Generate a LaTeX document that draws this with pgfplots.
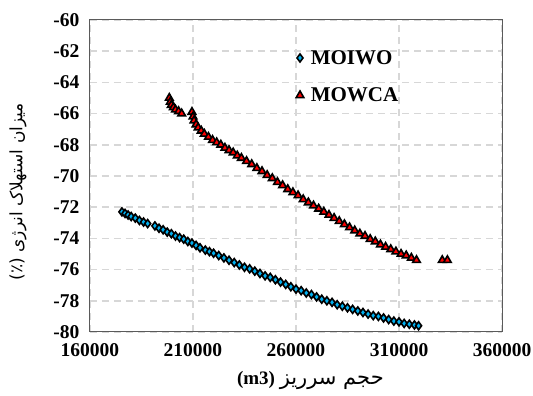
\documentclass[border=0pt]{standalone}
\usepackage{fontspec}
\setmainfont{Liberation Serif}
\newfontfamily\arabicfont[Script=Arabic]{DejaVu Sans}
\TeXXeTstate=1
\usepackage{pgfplots}
\pgfplotsset{compat=1.18}
\definecolor{moiwo}{RGB}{0,176,240}
\definecolor{gridc}{RGB}{215,215,215}
\definecolor{framec}{RGB}{90,90,90}
\begin{document}
\begin{tikzpicture}
\path[use as bounding box] (-90pt,-64pt) rectangle (443pt,332pt);
\begin{axis}[
  at={(0,0)}, anchor=south west,
  scale only axis, width=412pt, height=312pt,
  xmin=160000, xmax=360000, ymin=-80, ymax=-60,
  xtick={160000,210000,260000,310000,360000},
  xticklabels={160000,210000,260000,310000,360000},
  ytick={-80,-78,-76,-74,-72,-70,-68,-66,-64,-62,-60},
  yticklabels={-80,-78,-76,-74,-72,-70,-68,-66,-64,-62,-60},
  scaled ticks=false,
  major tick length=0pt,
  grid=major,
  major grid style={gridc, line width=1.5pt, dash pattern=on 7pt off 5pt},
  axis line style={framec, line width=1pt},
  tick label style={font=\bfseries\fontsize{19.5}{21}\selectfont, black},
  yticklabel style={xshift=-7pt},
  xticklabel style={yshift=-8pt},
  xlabel={\bfseries\fontsize{19}{20}\selectfont (m3) {\arabicfont\mdseries\fontsize{21}{22}\selectfont\beginR حجم سرریز\endR}},
  ylabel={\fontsize{17}{20}\selectfont\arabicfont (٪) \beginR میزان استهلاک انرژی\endR},
  xlabel style={at={(axis description cs:0.535,-0.155)}, anchor=center},
  ylabel style={at={(axis description cs:-0.175,0.45)}, anchor=center, rotate=0},
  legend style={draw=none, fill=none, at={(axis description cs:0.5,0.91)}, anchor=north west,
    font=\bfseries\fontsize{21}{23}\selectfont, row sep=18pt, inner sep=0pt},
  legend cell align=left,
]
\addplot[only marks, mark=diamond*, mark size=4pt, mark options={fill=moiwo, draw=black, line width=1.6pt}]
coordinates {
(175500,-72.3) (177000,-72.4) (178500,-72.5) (180000,-72.6) (182000,-72.7) (184000,-72.85) (186000,-72.95) (188000,-73.05)
(191500,-73.2) (193500,-73.35) (195500,-73.45) (197500,-73.6) (199500,-73.7) (201500,-73.85) (203500,-73.95) (205500,-74.05)
(207500,-74.2) (209500,-74.3) (211500,-74.45) (213400,-74.6)
(216000,-74.75) (218000,-74.85) (220000,-74.95) (222500,-75.1) (225000,-75.25) (227500,-75.4) (230000,-75.55) (232500,-75.7)
(235000,-75.85) (237500,-75.95) (240000,-76.1)
(242500,-76.25) (245000,-76.4) (247500,-76.5) (250000,-76.65) (252500,-76.8) (255000,-76.95) (257500,-77.1) (260000,-77.25)
(262500,-77.35) (265000,-77.5) (267500,-77.6)
(270000,-77.75) (272500,-77.9) (275000,-78.0) (277500,-78.1) (280000,-78.25) (282500,-78.35) (285000,-78.45) (287500,-78.55)
(290000,-78.65) (292500,-78.75)
(295000,-78.85) (297500,-78.95) (300000,-79.0) (302500,-79.1) (305000,-79.2) (307500,-79.3) (310000,-79.35) (312500,-79.45)
(315000,-79.5) (317500,-79.55) (319500,-79.6)
};
\addlegendentry{\hspace{5pt}MOIWO}
\addplot[only marks, mark=triangle*, mark size=4.4pt, mark options={fill=red, draw=black, line width=1.6pt}]
coordinates {
(198500,-65.0) (199000,-65.25) (199500,-65.45) (200500,-65.6) (201500,-65.75) (203000,-65.85) (204500,-66.0)
(209500,-65.9) (210000,-66.2) (210500,-66.45) (211500,-66.7) (212500,-66.9) (214000,-67.1) (215500,-67.3) (217500,-67.5)
(219500,-67.7) (221500,-67.85) (223500,-68.0) (225500,-68.2) (227500,-68.35) (229500,-68.5) (231500,-68.7) (233500,-68.85)
(236000,-69.05) (238500,-69.25) (241000,-69.5) (243500,-69.7) (246000,-69.95) (248500,-70.15) (251000,-70.4) (253500,-70.6)
(256000,-70.85) (258500,-71.05) (261000,-71.25) (263500,-71.5) (266000,-71.7) (268500,-71.9) (271000,-72.1) (273500,-72.3)
(276000,-72.5) (278500,-72.7) (281000,-72.9) (283500,-73.1) (286000,-73.3) (288500,-73.5) (291000,-73.7) (293500,-73.85)
(296000,-74.05) (298500,-74.2) (301000,-74.4) (303500,-74.55) (306000,-74.7) (308500,-74.85) (311000,-75.0) (313500,-75.1)
(316000,-75.25) (318500,-75.4) (331000,-75.4) (333500,-75.4)
};
\addlegendentry{\hspace{5pt}MOWCA}
\end{axis}
\end{tikzpicture}
\end{document}
